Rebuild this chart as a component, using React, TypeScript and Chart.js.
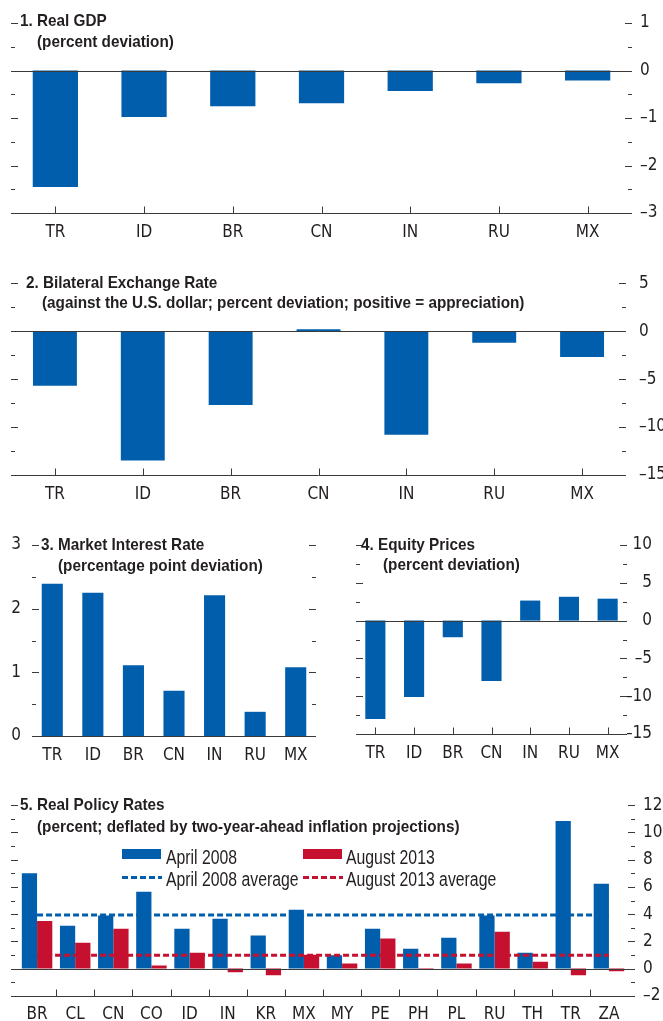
import React, { useEffect, useRef } from 'react';
import { Chart, registerables } from 'chart.js';

Chart.register(...registerables);

// ---------------- data ----------------
const countries7 = ['TR', 'ID', 'BR', 'CN', 'IN', 'RU', 'MX'];
const realGdp = [-2.45, -0.98, -0.75, -0.69, -0.43, -0.27, -0.21];
const exchangeRate = [-5.7, -13.5, -7.7, 0.2, -10.8, -1.2, -2.7];
const interestRate = [2.39, 2.25, 1.11, 0.71, 2.21, 0.38, 1.08];
const equityPrices = [-13.0, -10.1, -2.2, -8.0, 2.65, 3.15, 2.9];

const countries16 = ['BR', 'CL', 'CN', 'CO', 'ID', 'IN', 'KR', 'MX', 'MY', 'PE', 'PH', 'PL', 'RU', 'TH', 'TR', 'ZA'];
const policyApr2008 = [7.0, 3.15, 3.9, 5.64, 2.93, 3.66, 2.42, 4.32, 0.98, 2.93, 1.46, 2.27, 3.9, 1.17, 10.84, 6.23];
const policyAug2013 = [3.5, 1.9, 2.93, 0.22, 1.17, -0.27, -0.49, 1.02, 0.37, 2.2, -0.05, 0.37, 2.71, 0.51, -0.49, -0.2];
const avgApr2008 = 3.93;
const avgAug2013 = 0.98;

const titles1 = ['1. Real GDP', '(percent deviation)'];
const titles2 = ['2. Bilateral Exchange Rate', '(against the U.S. dollar; percent deviation; positive = appreciation)'];
const titles3 = ['3. Market Interest Rate', '(percentage point deviation)'];
const titles4 = ['4. Equity Prices', '(percent deviation)'];
const titles5 = ['5. Real Policy Rates', '(percent; deflated by two-year-ahead inflation projections)'];
const legendLabels = ['April 2008', 'August 2013', 'April 2008 average', 'August 2013 average'];

// ---------------- style ----------------
const BLUE = '#005eac';
const RED = '#c5112f';
const AXIS = '#3a3a3a';
const TEXT = '#231f20';
const TICK_FAMILY = "'DejaVu Sans Condensed', 'Liberation Sans', sans-serif";
const HTML_FAMILY = "'Liberation Sans', Arial, sans-serif";
const TICK_FONT = { family: TICK_FAMILY, size: 17 };

Chart.defaults.font.family = TICK_FAMILY;

const fmt = (v: any) => {
  const n = Number(v);
  return n < 0 ? '\u2013' + Math.abs(n) : String(n);
};

const decorPlugin = {
  id: 'decor',
  afterDatasetsDraw(chart: any, _a: any, o: any) {
    const { ctx, chartArea } = chart;
    const x = chart.scales.x;
    const y = chart.scales.y;
    const ext = o.ext || 0;
    const L = chartArea.left - ext;
    const R = chartArea.right + ext;
    const crisp = (v: number) => Math.round(v) + 0.5;
    const seg = (x1: number, y1: number, x2: number, y2: number) => {
      ctx.beginPath();
      ctx.moveTo(x1, y1);
      ctx.lineTo(x2, y2);
      ctx.stroke();
    };
    ctx.save();
    ctx.strokeStyle = AXIS;
    ctx.lineWidth = 1;
    const yb = crisp(chartArea.bottom);
    seg(L, yb, R, yb);
    if (y.min < 0 && y.max > 0) {
      const y0 = crisp(y.getPixelForValue(0));
      seg(L, y0, R, y0);
    }
    const n = Math.round((y.max - y.min) / o.minor);
    for (let k = 0; k <= n; k++) {
      const v = y.min + k * o.minor;
      const isMajor = Math.abs(v / o.major - Math.round(v / o.major)) < 1e-6;
      const len = isMajor ? 7 : 4;
      const py = crisp(y.getPixelForValue(v));
      if (o.left !== false) seg(L, py, L + len, py);
      if (o.right !== false) seg(R - len, py, R, py);
    }
    const cnt = chart.data.labels.length;
    if (o.xTicks === 'center') {
      for (let i = 0; i < cnt; i++) {
        const px = crisp(x.getPixelForValue(i));
        seg(px, yb, px, yb - 7);
      }
    } else if (o.xTicks === 'between') {
      for (let i = 0; i < cnt - 1; i++) {
        const px = crisp((x.getPixelForValue(i) + x.getPixelForValue(i + 1)) / 2);
        seg(px, yb, px, yb - 7);
      }
    }
    ctx.restore();
  },
};

type PanelSpec = {
  labels: string[];
  datasets: any[];
  yMin: number;
  yMax: number;
  major: number;
  minor: number;
  yPosition: 'left' | 'right';
  yWidth: number;
  yPad: number;
  yAlign?: 'near' | 'far';
  xHeight: number;
  xPad: number;
  padding: { top: number; left: number; right: number; bottom: number };
  decor: any;
};

function buildConfig(p: PanelSpec): any {
  return {
    type: 'bar',
    data: { labels: p.labels, datasets: p.datasets },
    plugins: [decorPlugin],
    options: {
      responsive: false,
      animation: false,
      devicePixelRatio: 1,
      layout: { padding: p.padding },
      plugins: {
        legend: { display: false },
        tooltip: { enabled: false },
        decor: p.decor,
      },
      scales: {
        x: {
          type: 'category',
          offset: true,
          grid: { display: false, drawTicks: false },
          border: { display: false },
          ticks: { color: TEXT, font: TICK_FONT, padding: p.xPad, maxRotation: 0, autoSkip: false },
          afterFit: (s: any) => {
            s.height = p.xHeight;
          },
        },
        y: {
          position: p.yPosition,
          min: p.yMin,
          max: p.yMax,
          grid: { display: false, drawTicks: false },
          border: { display: false },
          ticks: {
            stepSize: p.major,
            color: TEXT,
            font: TICK_FONT,
            padding: p.yPad,
            crossAlign: p.yAlign || 'near',
            callback: fmt,
          },
          afterFit: (s: any) => {
            s.width = p.yWidth;
          },
        },
      },
    },
  };
}

function ChartBox(props: { left: number; top: number; width: number; height: number; spec: PanelSpec }) {
  const ref = useRef<HTMLCanvasElement>(null);
  useEffect(() => {
    const chart = new Chart(ref.current as HTMLCanvasElement, buildConfig(props.spec));
    return () => chart.destroy();
  }, []);
  return (
    <canvas
      ref={ref}
      width={props.width}
      height={props.height}
      style={{ position: 'absolute', left: props.left, top: props.top, width: props.width, height: props.height }}
    />
  );
}

function Title(props: { lines: string[]; x1: number; y1: number; x2: number; y2: number }) {
  const base: React.CSSProperties = {
    position: 'absolute',
    fontFamily: HTML_FAMILY,
    fontWeight: 'bold',
    fontSize: 17,
    lineHeight: '20px',
    color: TEXT,
    whiteSpace: 'nowrap',
    transform: 'scaleX(0.9)',
    transformOrigin: 'left center',
  };
  return (
    <>
      <div style={{ ...base, left: props.x1, top: props.y1 - 10 }}>{props.lines[0]}</div>
      <div style={{ ...base, left: props.x2, top: props.y2 - 10 }}>{props.lines[1]}</div>
    </>
  );
}

function DashSwatch(props: { left: number; top: number; color: string }) {
  return (
    <svg style={{ position: 'absolute', left: props.left, top: props.top }} width={40} height={5}>
      <line x1={0} y1={2.5} x2={40} y2={2.5} stroke={props.color} strokeWidth={3} strokeDasharray="6 3" />
    </svg>
  );
}

function Legend5() {
  const txt: React.CSSProperties = {
    position: 'absolute',
    fontFamily: HTML_FAMILY,
    fontSize: 20,
    lineHeight: '24px',
    color: TEXT,
    whiteSpace: 'nowrap',
    transform: 'scaleX(0.79)',
    transformOrigin: 'left center',
  };
  return (
    <>
      <div style={{ position: 'absolute', left: 122, top: 849, width: 39, height: 10, background: BLUE }} />
      <div style={{ ...txt, left: 166, top: 845 }}>{legendLabels[0]}</div>
      <div style={{ position: 'absolute', left: 303, top: 849, width: 39, height: 10, background: RED }} />
      <div style={{ ...txt, left: 346, top: 845 }}>{legendLabels[1]}</div>
      <DashSwatch left={122} top={875} color={BLUE} />
      <div style={{ ...txt, left: 166, top: 867 }}>{legendLabels[2]}</div>
      <DashSwatch left={303} top={875} color={RED} />
      <div style={{ ...txt, left: 346, top: 867 }}>{legendLabels[3]}</div>
    </>
  );
}

const barDs = (data: number[], color: string, bp: number, cp: number) => ({
  type: 'bar',
  data,
  backgroundColor: color,
  borderWidth: 0,
  barPercentage: bp,
  categoryPercentage: cp,
  order: 2,
});

const avgDs = (value: number, color: string) => ({
  type: 'line',
  data: [
    { x: countries16[0], y: value },
    { x: countries16[countries16.length - 1], y: value },
  ],
  borderColor: color,
  borderWidth: 3,
  borderDash: [6, 3],
  pointRadius: 0,
  fill: false,
  order: 0,
});

const spec1: PanelSpec = {
  labels: countries7,
  datasets: [barDs(realGdp, BLUE, 0.51, 1)],
  yMin: -3, yMax: 1, major: 1, minor: 0.5,
  yPosition: 'right', yWidth: 31, yPad: 8, xHeight: 32, xPad: 9,
  padding: { top: 23, left: 11, right: 0, bottom: 0 },
  decor: { major: 1, minor: 0.5, xTicks: 'center' },
};

const spec2: PanelSpec = {
  labels: countries7,
  datasets: [barDs(exchangeRate, BLUE, 0.5, 1)],
  yMin: -15, yMax: 5, major: 5, minor: 2.5,
  yPosition: 'right', yWidth: 37, yPad: 13, xHeight: 30, xPad: 9,
  padding: { top: 23, left: 11, right: 0, bottom: 0 },
  decor: { major: 5, minor: 2.5, xTicks: 'center' },
};

const spec3: PanelSpec = {
  labels: countries7,
  datasets: [barDs(interestRate, BLUE, 0.52, 1)],
  yMin: 0, yMax: 3, major: 1, minor: 0.5,
  yPosition: 'left', yWidth: 32, yPad: 11, xHeight: 34, xPad: 9,
  padding: { top: 25, left: 0, right: 14, bottom: 0 },
  decor: { major: 1, minor: 0.5, xTicks: 'none' },
};

const spec4: PanelSpec = {
  labels: countries7,
  datasets: [barDs(equityPrices, BLUE, 0.52, 1)],
  yMin: -15, yMax: 10, major: 5, minor: 2.5,
  yPosition: 'right', yWidth: 25, yPad: 4, yAlign: 'far', xHeight: 36, xPad: 9,
  padding: { top: 25, left: 16, right: 0, bottom: 0 },
  decor: { major: 5, minor: 2.5, xTicks: 'center' },
};

const spec5: PanelSpec = {
  labels: countries16,
  datasets: [
    barDs(policyApr2008, BLUE, 1, 0.8),
    barDs(policyAug2013, RED, 1, 0.8),
    avgDs(avgApr2008, BLUE),
    avgDs(avgAug2013, RED),
  ],
  yMin: -2, yMax: 12, major: 2, minor: 1,
  yPosition: 'right', yWidth: 35, yPad: 15, xHeight: 24, xPad: 9,
  padding: { top: 25, left: 18, right: 0, bottom: 0 },
  decor: { major: 2, minor: 1, xTicks: 'between', ext: 7 },
};

export default function App() {
  return (
    <div
      style={{
        position: 'absolute',
        left: 0,
        top: 0,
        width: 663,
        height: 1021,
        overflow: 'hidden',
        background: '#ffffff',
      }}
    >
      <ChartBox left={0} top={0} width={663} height={245} spec={spec1} />
      <ChartBox left={0} top={260} width={663} height={245} spec={spec2} />
      <ChartBox left={0} top={520} width={330} height={250} spec={spec3} />
      <ChartBox left={340} top={520} width={312} height={250} spec={spec4} />
      <ChartBox left={0} top={780} width={663} height={241} spec={spec5} />
      <Title lines={titles1} x1={20} y1={21} x2={37} y2={42} />
      <Title lines={titles2} x1={26} y1={283} x2={42} y2={303} />
      <Title lines={titles3} x1={41} y1={545} x2={58} y2={566} />
      <Title lines={titles4} x1={361} y1={545} x2={383} y2={565} />
      <Title lines={titles5} x1={20} y1={805} x2={37} y2={827} />
      <Legend5 />
    </div>
  );
}
